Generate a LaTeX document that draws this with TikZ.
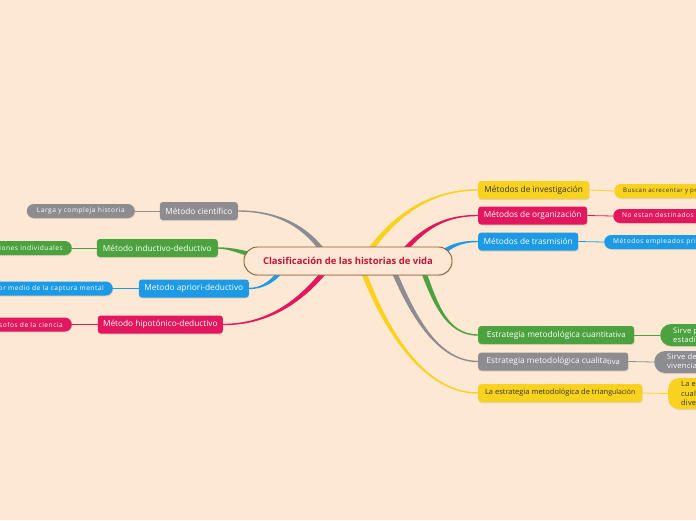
\documentclass[tikz,border=0pt]{standalone}
\usepackage{fontspec}
\setmainfont{Open Sans}
\newfontfamily\subfont[LetterSpace=8]{Open Sans}
\newfontfamily\subfontb[LetterSpace=3]{Open Sans}
\usetikzlibrary{calc,shadows}
\pgfdeclarelayer{bgl}
\pgfdeclarelayer{edges}
\pgfsetlayers{bgl,edges,main}
\definecolor{bg}{HTML}{FDE8D3}
\definecolor{cgray}{HTML}{8C8C91}
\definecolor{cgreen}{HTML}{4CA23F}
\definecolor{cblue}{HTML}{1D9AE6}
\definecolor{cpink}{HTML}{E3175D}
\definecolor{cyellow}{HTML}{F8D21E}
\definecolor{cdark}{HTML}{333333}
\definecolor{cbrown}{HTML}{8B5E34}
\definecolor{cred}{HTML}{C8143C}
\newcommand\mybranch[5]{%
\fill[#1] ($(#2)!2.6pt!90:(#3)$) .. controls ($(#3)!2.6pt!-90:(#2)$) and ($(#4)!0.7pt!90:(#5)$) .. ($(#5)!0.7pt!-90:(#4)$) -- ($(#5)!0.7pt!90:(#4)$) .. controls ($(#4)!0.7pt!-90:(#5)$) and ($(#3)!2.6pt!90:(#2)$) .. ($(#2)!2.6pt!-90:(#3)$) -- cycle;}
\tikzset{
  shad/.style={drop shadow={opacity=0.22, shadow xshift=0.5pt, shadow yshift=-1pt}},
  mainbox/.style={shad, rounded corners=3pt, minimum height=18pt, inner xsep=4pt, inner ysep=0pt, font=\fontsize{8.3}{10}\selectfont, text=white},
  subbox/.style={shad, rounded corners=7pt, minimum height=14pt, inner xsep=9pt, inner ysep=0pt, font=\subfont\fontsize{6.6}{8}\selectfont, text=white},
  subboxb/.style={shad, rounded corners=11pt, inner xsep=13pt, inner ysep=2pt, align=left, font=\subfontb\fontsize{7.6}{9}\selectfont, text=white},
  centerbox/.style={shad, draw=cbrown, line width=0.9pt, fill=bg, rounded corners=13.5pt, minimum width=208pt, minimum height=28pt, inner sep=0pt, font=\bfseries\fontsize{9.5}{11}\selectfont, text=cred},
  link/.style={line width=0.8pt},
}
\begin{document}
\begin{tikzpicture}[x=1pt,y=-1pt]
\useasboundingbox (0,0) rectangle (696,520);
\clip (0,0) rectangle (696,520);
\begin{pgfonlayer}{bgl}
\fill[bg] (0,0) rectangle (696,520);
\end{pgfonlayer}

% central node
\node[centerbox] (c) at (348,261) {Clasificación de las historias de vida};

% main nodes (left)
\node[mainbox, fill=cgray, minimum width=78pt, anchor=east] (cient) at (238,211) {Método científico};
\node[mainbox, fill=cgreen, minimum width=121pt, anchor=east] (induct) at (218,248) {Método inductivo-deductivo};
\node[mainbox, fill=cblue, minimum width=110pt, anchor=east] (apri) at (249,288.5) {Metodo apriori-deductivo};
\node[mainbox, fill=cpink, minimum width=125pt, anchor=east] (hipo) at (223,324.5) {Método hipotónico-deductivo};
% main nodes (right)
\node[mainbox, fill=cyellow, text=cdark, minimum width=111pt, anchor=west] (inv) at (478,190) {Métodos de investigación};
\node[mainbox, fill=cpink, minimum width=109pt, anchor=west] (org) at (478,215.5) {Métodos de organización};
\node[mainbox, fill=cblue, minimum width=100pt, anchor=west] (tras) at (478,241.5) {Métodos de trasmisión};
\node[mainbox, fill=cgreen, minimum width=156pt, anchor=west] (cuant) at (478,335) {Estrategia metodológica cuanti\raisebox{-0.8pt}{\fontsize{7.6}{9}\selectfont tativa}};
\node[mainbox, fill=cgray, minimum width=150pt, anchor=west] (cual) at (478,361.5) {Estrategia metodológica cualita\raisebox{-0.8pt}{\fontsize{7.6}{9}\selectfont tiva}};
\node[mainbox, fill=cyellow, text=cdark, minimum width=164pt, anchor=west, font=\fontsize{7.5}{8}\selectfont] (tri) at (478,393) {La estrategia metodológica de trian{\fontsize{6.9}{7}\selectfont gulación}};

% sub nodes (left)
\node[subbox, fill=cgray, minimum width=108pt, anchor=east] (larga) at (135,211) {Larga y compleja historia};
\node[subbox, fill=cgreen, anchor=east] (indiv) at (72,248) {Observaciones individuales};
\node[subbox, fill=cblue, anchor=east] (capt) at (113,288.5) {Por medio de la captura mental};
\node[subbox, fill=cpink, anchor=east] (filo) at (72,324.5) {Los filósofos de la ciencia};
% sub nodes (right)
\node[subbox, fill=cyellow, text=cdark, anchor=west, font=\subfont\fontsize{6.1}{7}\selectfont] (busc) at (614,191) {Buscan acrecentar y profundizar el conocimiento};
\node[subbox, fill=cpink, anchor=west] (noest) at (613,216) {No estan destinados a la investigación};
\node[subbox, fill=cblue, anchor=west] (empl) at (604,242) {Métodos empleados principalmente};
\node[subboxb, fill=cgreen, anchor=west, minimum height=22pt] (sirvp) at (660,335) {Sirve para medir\\estadísticamente};
\node[subboxb, fill=cgray, anchor=west, minimum height=22pt] (sirvd) at (654,362) {Sirve de estudio\\vivencias personales};
\node[subboxb, fill=cyellow, text=cdark, anchor=west, minimum height=31pt, font=\subfontb\fontsize{7.4}{9.8}\selectfont] (lae) at (668,393.5) {La estrategia\\cualitativa y\\diversa};

% branch coordinates
\coordinate (s1) at (362,262); \coordinate (a1) at (392,215); \coordinate (b1) at (430,190);
\coordinate (s2) at (395,262); \coordinate (a2) at (418,232); \coordinate (b2) at (440,215.5);
\coordinate (s3) at (430,262); \coordinate (a3) at (450,245); \coordinate (b3) at (460,241.5);
\coordinate (s4) at (420,262); \coordinate (a4) at (434,300); \coordinate (b4) at (445,335);
\coordinate (s5) at (390,262); \coordinate (a5) at (410,310); \coordinate (b5) at (435,361.5);
\coordinate (s6) at (360,262); \coordinate (a6) at (380,320); \coordinate (b6) at (420,393);
\coordinate (s7) at (330,262); \coordinate (a7) at (310,228); \coordinate (b7) at (280,211);
\coordinate (s8) at (262,258); \coordinate (a8) at (242,252); \coordinate (b8) at (230,248);
\coordinate (s9) at (287,262); \coordinate (a9) at (275,282); \coordinate (b9) at (262,288.5);
\coordinate (s10) at (332,262); \coordinate (a10) at (300,305); \coordinate (b10) at (265,324.5);

\begin{pgfonlayer}{edges}
\mybranch{cyellow}{s1}{a1}{b1}{inv.west}
\mybranch{cpink}{s2}{a2}{b2}{org.west}
\mybranch{cblue}{s3}{a3}{b3}{tras.west}
\mybranch{cgreen}{s4}{a4}{b4}{cuant.west}
\mybranch{cgray}{s5}{a5}{b5}{cual.west}
\mybranch{cyellow}{s6}{a6}{b6}{tri.west}
\mybranch{cgray}{s7}{a7}{b7}{cient.east}
\mybranch{cgreen}{s8}{a8}{b8}{induct.east}
\mybranch{cblue}{s9}{a9}{b9}{apri.east}
\mybranch{cpink}{s10}{a10}{b10}{hipo.east}
\draw[link, cgray] (cient.west) -- (larga.east);
\draw[link, cgreen] (induct.west) -- (indiv.east);
\draw[link, cblue] (apri.west) -- (capt.east);
\draw[link, cpink] (hipo.west) -- (filo.east);
\draw[link, cyellow] (inv.east) -- (busc.west);
\draw[link, cpink] (org.east) -- (noest.west);
\draw[link, cblue] (tras.east) -- (empl.west);
\draw[link, cgreen] (cuant.east) -- (sirvp.west);
\draw[link, cgray] (cual.east) -- (sirvd.west);
\draw[link, cyellow] (tri.east) -- (lae.west);
\end{pgfonlayer}
\end{tikzpicture}
\end{document}
